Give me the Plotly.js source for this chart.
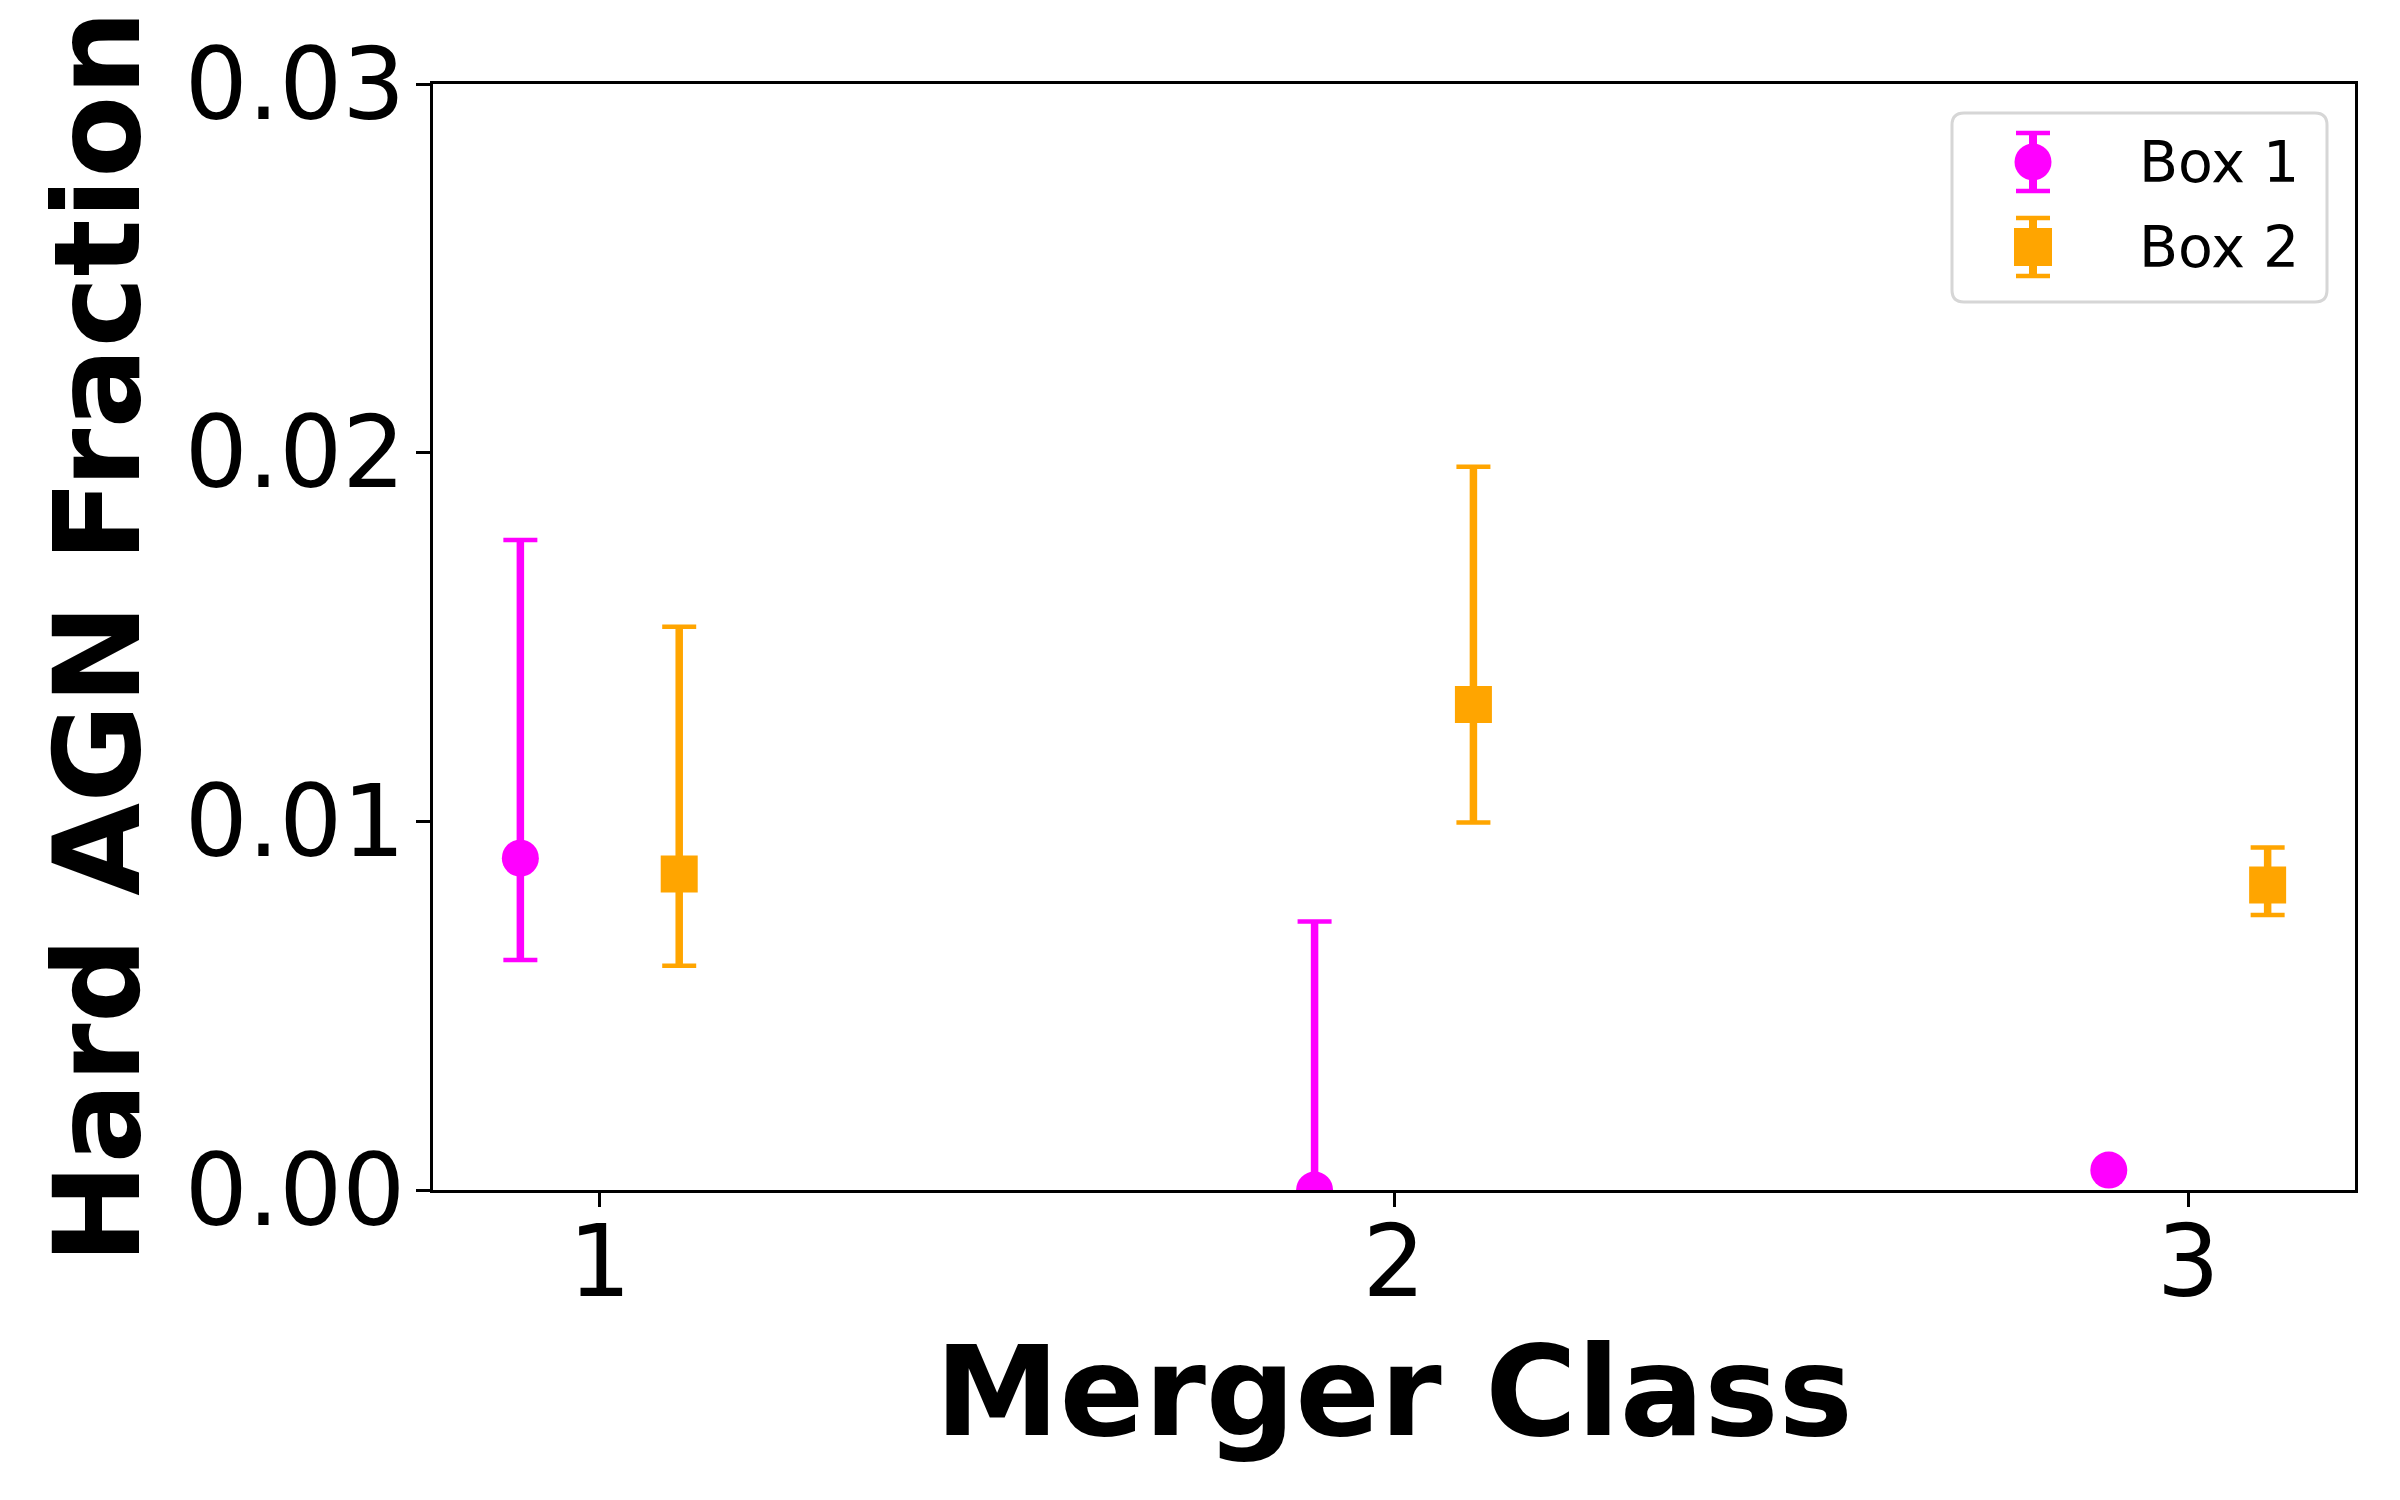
<!DOCTYPE html>
<html>
<head>
<meta charset="utf-8">
<script src="https://cdn.plot.ly/plotly-3.0.1.min.js"></script>
<style>html,body{margin:0;padding:0;background:#fff;}#chart{width:2400px;height:1500px;}</style>
</head>
<body>
<div id="chart"></div>
<script>
// ---- data ----
const seriesNames = ["Box 1", "Box 2"];
const seriesColors = ["#FF00FF", "#FFA500"];
const seriesSymbols = ["circle", "square"];
const box1X = [0.9, 1.9, 2.9];
const box1Y = [0.0090, 0.0000, 0.00054];
const box1ErrPlus = [0.00863, 0.00728, 0.0];
const box1ErrMinus = [0.00276, 0.0, 0.0];
const box2X = [1.1, 2.1, 3.1];
const box2Y = [0.00857, 0.01317, 0.00827];
const box2ErrPlus = [0.00671, 0.00645, 0.00102];
const box2ErrMinus = [0.00249, 0.00320, 0.00081];
const xTickVals = [1, 2, 3];
const xTickText = ["1", "2", "3"];
const yTickVals = [0, 0.01, 0.02, 0.03];
const yTickText = ["0.00", "0.01", "0.02", "0.03"];
const xTitle = "Merger Class";
const yTitle = "Hard AGN Fraction";

const FONT = "DejaVu Sans, Liberation Sans, sans-serif";
const W = 2400, H = 1500;
const M = {l: 433, r: 45, t: 84, b: 310};
const PW = W - M.l - M.r, PH = H - M.t - M.b;

const series = [
  {x: box1X, y: box1Y, p: box1ErrPlus, m: box1ErrMinus},
  {x: box2X, y: box2Y, p: box2ErrPlus, m: box2ErrMinus}
];

const traces = [];
series.forEach((s, i) => {
  // caps (thinner lines)
  traces.push({
    type: "scatter", mode: "markers", x: s.x, y: s.y, showlegend: false, hoverinfo: "skip",
    marker: {size: 1, opacity: 0, color: seriesColors[i]},
    error_y: {type: "data", symmetric: false, array: s.p, arrayminus: s.m,
      color: seriesColors[i], thickness: 4.5, width: 17},
    cliponaxis: false
  });
});
series.forEach((s, i) => {
  traces.push({
    type: "scatter", mode: "markers", name: seriesNames[i], x: s.x, y: s.y, showlegend: false,
    marker: {size: 37, symbol: seriesSymbols[i], color: seriesColors[i], line: {width: 0}},
    error_y: {type: "data", symmetric: false, array: s.p, arrayminus: s.m,
      color: seriesColors[i], thickness: 7.5, width: 0},
    cliponaxis: true
  });
});

// custom legend (matplotlib style), positioned in pixels -> paper
const px = v => (v - M.l) / PW;
const py = v => (H - M.b - v) / PH;
const shapes = [];
const annotations = [];
{
  const L = 1952, R = 2327, T = 113, B = 302, r = 12;
  const path = `M ${px(L + r)},${py(T)} L ${px(R - r)},${py(T)} Q ${px(R)},${py(T)} ${px(R)},${py(T + r)} ` +
    `L ${px(R)},${py(B - r)} Q ${px(R)},${py(B)} ${px(R - r)},${py(B)} L ${px(L + r)},${py(B)} ` +
    `Q ${px(L)},${py(B)} ${px(L)},${py(B - r)} L ${px(L)},${py(T + r)} Q ${px(L)},${py(T)} ${px(L + r)},${py(T)} Z`;
  shapes.push({type: "path", xref: "paper", yref: "paper", path: path,
    fillcolor: "rgba(255,255,255,0.8)", line: {color: "#d6d6d6", width: 3}, layer: "above"});
  const rows = [162, 247];
  const half = [29, 29];
  const cx = 2033;
  rows.forEach((cy, i) => {
    const c = seriesColors[i];
    shapes.push({type: "line", xref: "paper", yref: "paper", x0: px(cx), x1: px(cx), y0: py(cy - half[i]), y1: py(cy + half[i]), line: {color: c, width: 8}, layer: "above"});
    [cy - half[i], cy + half[i]].forEach(yy => {
      shapes.push({type: "line", xref: "paper", yref: "paper", x0: px(cx - 17), x1: px(cx + 17), y0: py(yy), y1: py(yy), line: {color: c, width: 4.5}, layer: "above"});
    });
    if (seriesSymbols[i] === "circle") {
      shapes.push({type: "circle", xref: "paper", yref: "paper", x0: px(cx - 18.5), x1: px(cx + 18.5), y0: py(cy - 18.5), y1: py(cy + 18.5), fillcolor: c, line: {width: 0}, layer: "above"});
    } else {
      shapes.push({type: "rect", xref: "paper", yref: "paper", x0: px(cx - 19), x1: px(cx + 19), y0: py(cy - 19), y1: py(cy + 19), fillcolor: c, line: {width: 0}, layer: "above"});
    }
    annotations.push({xref: "paper", yref: "paper", x: px(2137), y: py(cy), xanchor: "left", yanchor: "middle",
      text: seriesNames[i], showarrow: false, font: {family: FONT, size: 57, color: "#000"}});
  });
}

const layout = {
  width: W, height: H,
  margin: M,
  paper_bgcolor: "#fff", plot_bgcolor: "#fff",
  font: {family: FONT, color: "#000"},
  showlegend: false,
  xaxis: {
    range: [0.79, 3.21], tickvals: xTickVals, ticktext: xTickText,
    showline: true, mirror: true, linecolor: "#000", linewidth: 3,
    ticks: "outside", ticklen: 14, tickwidth: 3, tickcolor: "#000",
    showgrid: false, zeroline: false, automargin: false,
    tickfont: {family: FONT, size: 99, color: "#000"}, ticklabelstandoff: -30,
    title: {text: "<b>" + xTitle + "</b>", font: {family: FONT, size: 125, color: "#000"}, standoff: 16}
  },
  yaxis: {
    range: [0, 0.03], tickvals: yTickVals, ticktext: yTickText,
    showline: true, mirror: true, linecolor: "#000", linewidth: 3,
    ticks: "outside", ticklen: 14, tickwidth: 3, tickcolor: "#000",
    showgrid: false, zeroline: false, automargin: false,
    tickfont: {family: FONT, size: 99, color: "#000"}, ticklabelstandoff: -9,
    title: {text: "<b>" + yTitle + "</b>", font: {family: FONT, size: 120, color: "#000"}, standoff: 5}
  },
  shapes: shapes,
  annotations: annotations
};

Plotly.newPlot("chart", traces, layout, {staticPlot: true, displayModeBar: false});
</script>
</body>
</html>
